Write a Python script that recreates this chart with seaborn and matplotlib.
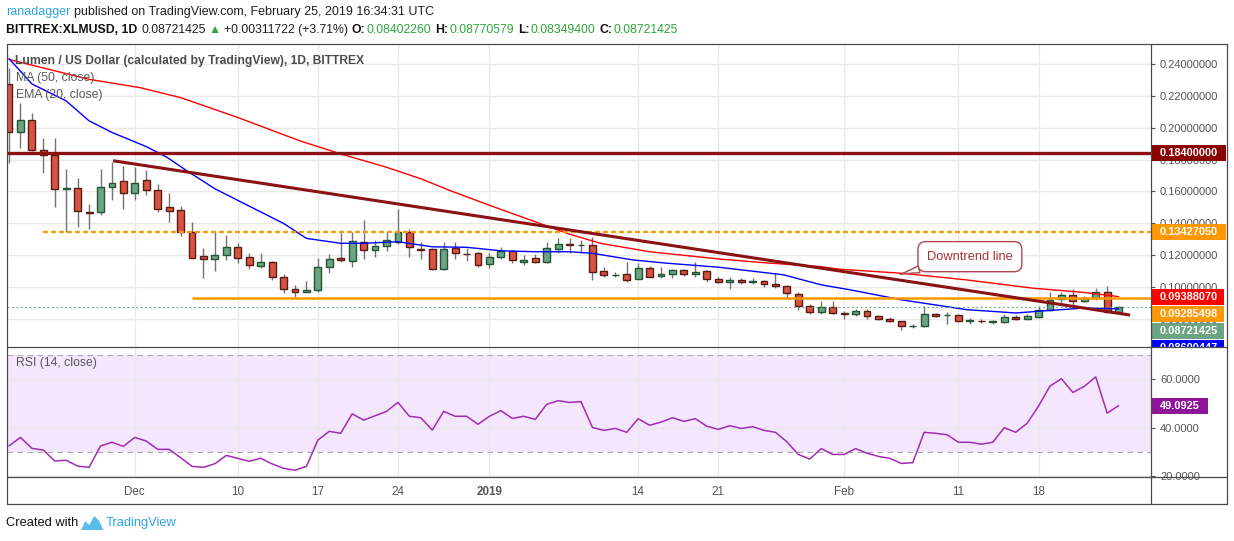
import numpy as np
import pandas as pd
import matplotlib
matplotlib.use("Agg")
import matplotlib.pyplot as plt
import seaborn as sns
from matplotlib.patches import Rectangle, Polygon
from matplotlib.lines import Line2D
from matplotlib.transforms import Bbox, TransformedBbox

W, H = 1234, 541

# ---------------- data ----------------
start_date = "2018-11-20"   # one daily candle per entry

opens = [
    0.2277, 0.1976, 0.2049, 0.1861, 0.1830, 0.1615, 0.1624, 0.1469, 0.1471, 0.1628,
    0.1663, 0.1592, 0.1669, 0.1607, 0.1501, 0.1482, 0.1344, 0.1192, 0.1174, 0.1199,
    0.1249, 0.1186, 0.1132, 0.1157, 0.1065, 0.0986, 0.0967, 0.0980, 0.1124, 0.1180,
    0.1163, 0.1284, 0.1232, 0.1257, 0.1284, 0.1346, 0.1238, 0.1236, 0.1113, 0.1244,
    0.1209, 0.1211, 0.1144, 0.1186, 0.1224, 0.1155, 0.1180, 0.1155, 0.1240, 0.1267,
    0.1261, 0.1261, 0.1100, 0.1075, 0.1080, 0.1049, 0.1117, 0.1067, 0.1080, 0.1105,
    0.1080, 0.1098, 0.1049, 0.1030, 0.1042, 0.1033, 0.1036, 0.1019, 0.1005, 0.0955,
    0.0880, 0.0842, 0.0871, 0.0833, 0.0832, 0.0851, 0.0817, 0.0801, 0.0788, 0.0752,
    0.0753, 0.0830, 0.0823, 0.0824, 0.0787, 0.0787, 0.0781, 0.0780, 0.0811, 0.0799,
    0.0811, 0.0853, 0.0924, 0.0949, 0.0911, 0.0930, 0.0967, 0.0840,
]
highs = [
    0.2376, 0.2159, 0.2094, 0.1936, 0.1936, 0.1742, 0.1686, 0.1519, 0.1742, 0.1783,
    0.1757, 0.1752, 0.1732, 0.1644, 0.1592, 0.1509, 0.1409, 0.1246, 0.1351, 0.1326,
    0.1276, 0.1215, 0.1211, 0.1163, 0.1082, 0.1011, 0.1038, 0.1180, 0.1207, 0.1336,
    0.1342, 0.1419, 0.1294, 0.1342, 0.1488, 0.1367, 0.1284, 0.1242, 0.1284, 0.1284,
    0.1242, 0.1221, 0.1211, 0.1249, 0.1232, 0.1199, 0.1205, 0.1284, 0.1309, 0.1305,
    0.1294, 0.1315, 0.1124, 0.1094, 0.1157, 0.1153, 0.1132, 0.1124, 0.1111, 0.1113,
    0.1157, 0.1107, 0.1061, 0.1061, 0.1059, 0.1053, 0.1044, 0.1090, 0.1013, 0.0967,
    0.0894, 0.0909, 0.0909, 0.0851, 0.0861, 0.0861, 0.0826, 0.0811, 0.0788, 0.0769,
    0.0882, 0.0838, 0.0844, 0.0830, 0.0803, 0.0799, 0.0790, 0.0832, 0.0821, 0.0830,
    0.0882, 0.0971, 0.0971, 0.0986, 0.0944, 0.0992, 0.1003, 0.0877,
]
lows = [
    0.1776, 0.1874, 0.1857, 0.1715, 0.1502, 0.1346, 0.1378, 0.1363, 0.1450, 0.1544,
    0.1492, 0.1544, 0.1576, 0.1471, 0.1409, 0.1321, 0.1180, 0.1055, 0.1102, 0.1169,
    0.1152, 0.1113, 0.1117, 0.1044, 0.0961, 0.0936, 0.0965, 0.0967, 0.1086, 0.1155,
    0.1127, 0.1176, 0.1190, 0.1228, 0.1267, 0.1190, 0.1174, 0.1107, 0.1107, 0.1176,
    0.1165, 0.1124, 0.1121, 0.1174, 0.1148, 0.1140, 0.1148, 0.1148, 0.1211, 0.1215,
    0.1215, 0.1044, 0.1061, 0.1061, 0.1030, 0.1049, 0.1061, 0.1055, 0.1053, 0.1071,
    0.1061, 0.1030, 0.1024, 0.0986, 0.1019, 0.1019, 0.0999, 0.0990, 0.0936, 0.0855,
    0.0830, 0.0830, 0.0830, 0.0801, 0.0819, 0.0799, 0.0794, 0.0778, 0.0732, 0.0740,
    0.0749, 0.0811, 0.0769, 0.0782, 0.0767, 0.0774, 0.0769, 0.0774, 0.0790, 0.0792,
    0.0807, 0.0849, 0.0899, 0.0874, 0.0903, 0.0919, 0.0836, 0.0835,
]
closes = [
    0.1976, 0.2049, 0.1861, 0.1830, 0.1617, 0.1622, 0.1480, 0.1465, 0.1630, 0.1655,
    0.1592, 0.1655, 0.1611, 0.1492, 0.1480, 0.1342, 0.1184, 0.1174, 0.1199, 0.1249,
    0.1184, 0.1136, 0.1157, 0.1065, 0.0986, 0.0967, 0.0980, 0.1124, 0.1178, 0.1167,
    0.1288, 0.1232, 0.1257, 0.1294, 0.1346, 0.1249, 0.1234, 0.1113, 0.1240, 0.1211,
    0.1205, 0.1136, 0.1186, 0.1224, 0.1167, 0.1171, 0.1155, 0.1242, 0.1267, 0.1263,
    0.1265, 0.1092, 0.1074, 0.1077, 0.1046, 0.1117, 0.1065, 0.1080, 0.1105, 0.1080,
    0.1094, 0.1049, 0.1030, 0.1042, 0.1030, 0.1035, 0.1019, 0.1005, 0.0961, 0.0878,
    0.0840, 0.0871, 0.0836, 0.0831, 0.0848, 0.0815, 0.0799, 0.0786, 0.0753, 0.0754,
    0.0828, 0.0819, 0.0825, 0.0788, 0.0789, 0.0785, 0.0783, 0.0811, 0.0799, 0.0819,
    0.0857, 0.0919, 0.0949, 0.0911, 0.0930, 0.0967, 0.0842, 0.08721425,
]

rsi = [
    32.5, 36.0, 31.5, 30.8, 26.3, 26.6, 24.2, 23.7, 32.5, 34.0,
    32.3, 36.0, 34.5, 31.1, 31.1, 27.7, 24.1, 23.7, 25.2, 28.6,
    27.4, 26.2, 27.4, 25.1, 23.3, 22.5, 24.1, 34.9, 38.5, 37.7,
    45.7, 43.1, 44.9, 46.7, 50.4, 44.7, 44.1, 39.0, 46.7, 44.7,
    44.7, 41.4, 44.7, 47.0, 43.8, 44.7, 43.4, 49.6, 51.1, 50.4,
    50.7, 40.1, 38.9, 39.7, 38.1, 43.7, 41.0, 42.3, 44.1, 42.6,
    43.7, 40.6, 39.3, 40.8, 39.7, 40.4, 38.9, 38.1, 34.2, 29.0,
    27.1, 31.4, 29.0, 29.0, 31.4, 29.5, 28.2, 27.4, 25.3, 25.6,
    38.1, 37.7, 37.1, 34.0, 34.0, 33.2, 34.0, 40.0, 38.1, 41.8,
    48.9, 57.1, 60.1, 54.5, 57.0, 60.9, 46.0, 49.0925,
]

# moving averages, sampled along the drawn curves (candle index, price)
ma50_x = [0, 7, 11.5, 15, 20, 25.4, 29, 33, 36, 38.5, 42, 46.4, 48.8, 51.7,
          56, 62, 66, 71, 72.6, 78, 83.7, 89.5, 94, 97]
ma50_y = [0.2430, 0.2305, 0.2252, 0.2190, 0.2065, 0.1919, 0.1836, 0.1752,
          0.1680, 0.1607, 0.1513, 0.1399, 0.1336, 0.1274, 0.1221, 0.1176,
          0.1152, 0.1127, 0.1111, 0.1086, 0.1044, 0.0992, 0.0965, 0.0939]
ema20_x = [0, 2, 5, 7, 9, 12, 13.8, 15.5, 18, 20, 24, 26, 29, 31, 34, 37, 40,
           43, 46, 49, 51, 54.6, 57.5, 62, 67.7, 71, 73.5, 78, 83.7, 88, 91, 94, 97]
ema20_y = [0.2435, 0.2276, 0.2169, 0.2044, 0.1971, 0.1882, 0.1815, 0.1732,
           0.1617, 0.1544, 0.1399, 0.1305, 0.1274, 0.1274, 0.1284, 0.1252,
           0.1249, 0.1227, 0.1221, 0.1221, 0.1211, 0.1169, 0.1149, 0.1124,
           0.1076, 0.1013, 0.0982, 0.0919, 0.0857, 0.0836, 0.0852, 0.0867, 0.0862]

# drawings
resistance = 0.184
dashed_level = 0.1342705
dashed_from = 3
support = 0.09285498
support_from = 16
trend_x = [9.1, 98.0]
trend_y = [0.1793, 0.0823]

date_ticks = ["2018-12-01", "2018-12-10", "2018-12-17", "2018-12-24", "2019-01-01",
              "2019-01-14", "2019-01-21", "2019-02-01", "2019-02-11", "2019-02-18"]
date_labels = ["Dec", "10", "17", "24", "2019", "14", "21", "Feb", "11", "18"]
price_ticks = [0.08, 0.10, 0.12, 0.14, 0.16, 0.18, 0.20, 0.22, 0.24]
rsi_ticks = [20, 40, 60]

fixed_tags = [("0.18400000", 0.184, "#8B0000"), ("0.13427050", 0.1342705, "#FF9800")]
stacked_tags = [("0.09388070", "#FF0000"), ("0.09285498", "#FF9800"),
                ("0.08721425", "#6BA583"), ("0.08600447", "#0000FF")]
stack_start = 0.0938807
rsi_tag = 49.0925

header_user = "ranadagger"
header_rest = "published on TradingView.com, February 25, 2019 16:34:31 UTC"
symbol = "BITTREX:XLMUSD, 1D"
last_txt = "0.08721425"
change_txt = "+0.00311722 (+3.71%)"
ohlc_txt = [("O:", "0.08402260"), ("H:", "0.08770579"), ("L:", "0.08349400"), ("C:", "0.08721425")]

# ---------------- style ----------------
UP_FILL, UP_EDGE = "#6BA583", "#225437"
DN_FILL, DN_EDGE = "#D75442", "#5B1A13"
WICK = "#737375"
GRID = "#E9E9EA"
TXT = "#555555"
FRAME = "#4A4A4A"
GREEN_TXT = "#2DA63B"
TV_BLUE = "#2CA5E0"

LEFT, SPLIT, RIGHT = 7, 1151, 1227
TOP, MID, XAX, BOTTOM = 44, 346.7, 477.3, 504


def fx(px):
    return px / W


def fy(py):
    return 1 - py / H


def main():
    sns.set_theme(style="white")
    plt.rcParams["font.family"] = ["Liberation Sans", "DejaVu Sans"]

    fig = plt.figure(figsize=(W / 100, H / 100), dpi=100)
    fig.patch.set_facecolor("white")

    ax_p = fig.add_axes([fx(LEFT), fy(MID), fx(SPLIT) - fx(LEFT), fy(TOP) - fy(MID)])
    ax_r = fig.add_axes([fx(LEFT), fy(XAX), fx(SPLIT) - fx(LEFT), fy(MID) - fy(XAX)])

    n = len(opens)
    dates = pd.date_range(start_date, periods=n, freq="D")
    xs = np.arange(n)
    tick_pos = [dates.get_loc(pd.Timestamp(d)) for d in date_ticks]

    o = np.array(opens)
    c = np.array(closes)
    up = c >= o

    for ax in (ax_p, ax_r):
        ax.set_facecolor("white")
        for s in ax.spines.values():
            s.set_visible(False)
        ax.set_xlim(-0.175, 99.83)
        ax.set_xticks(tick_pos)
        ax.grid(True, color=GRID, lw=1.0)

    # --------- price pane ---------
    ax_p.set_ylim(0.0624, 0.2527)
    ax_p.set_axisbelow(True)

    ax_p.vlines(xs, lows, highs, color=WICK, lw=1.0, zorder=2)
    body_h = np.maximum(np.abs(c - o), 0.00012)
    ax_p.bar(xs, body_h, bottom=np.minimum(o, c), width=0.6,
             color=np.where(up, UP_FILL, DN_FILL),
             edgecolor=np.where(up, UP_EDGE, DN_EDGE), linewidth=1.0, zorder=2.5)

    ma_df = pd.DataFrame({"x": ma50_x, "y": ma50_y})
    ema_df = pd.DataFrame({"x": ema20_x, "y": ema20_y})
    sns.lineplot(data=ma_df, x="x", y="y", ax=ax_p, color="#FF0000", lw=1.0, zorder=3)
    sns.lineplot(data=ema_df, x="x", y="y", ax=ax_p, color="#0000FF", lw=1.0, zorder=3)

    ax_p.axhline(resistance, color="#8E1212", lw=2.4, zorder=4)
    ax_p.hlines(dashed_level, dashed_from, 99.83, color="#FF9800", lw=1.6,
                linestyles=(0, (2.2, 1.4)), zorder=4)
    ax_p.hlines(support, support_from, 99.83, color="#FF9800", lw=1.8, zorder=4)
    ax_p.axhline(closes[-1], color="#5E9C78", lw=0.8, ls=(0, (1.5, 2.5)), zorder=4)
    ax_p.plot(trend_x, trend_y, color="#8B1212", lw=2.2, solid_capstyle="butt", zorder=5)

    ax_p.annotate("Downtrend line", xy=(77.9, 0.1079), xytext=(84.0, 0.1190),
                  ha="center", va="center", fontsize=9.3, color="#A8323A", zorder=7,
                  bbox=dict(boxstyle="round,pad=0.7,rounding_size=0.6", fc="white",
                            ec="#B0474E", lw=1.0),
                  arrowprops=dict(arrowstyle="wedge,tail_width=0.55,shrink_factor=0.4",
                                  fc="white", ec="#B0474E", lw=1.0, relpos=(0.2, 0.0),
                                  shrinkA=0, shrinkB=0))

    ax_p.set_xlabel("")
    ax_p.set_ylabel("")
    ax_p.yaxis.tick_right()
    ax_p.set_yticks(price_ticks)
    ax_p.set_yticklabels([f"{t:.8f}" for t in price_ticks])
    ax_p.tick_params(axis="y", length=2.9, width=0.8, color=TXT, pad=3.6,
                     labelsize=8.0, labelcolor=TXT, right=True, left=False)
    ax_p.tick_params(axis="x", length=0, labelbottom=False)

    fig.text(fx(15), fy(61), "Lumen / US Dollar (calculated by TradingView), 1D, BITTREX",
             fontsize=8.7, color="#4D4D4D", fontweight="bold", va="center", ha="left")
    fig.text(fx(15.5), fy(78), "MA (50, close)", fontsize=8.8, color="#5A5A5A",
             va="center", ha="left")
    fig.text(fx(15.5), fy(95), "EMA (20, close)", fontsize=8.8, color="#5A5A5A",
             va="center", ha="left")

    # --------- RSI pane ---------
    ax_r.set_ylim(19.6, 73.3)
    ax_r.set_axisbelow("line")
    ax_r.axhspan(30, 70, color="#F4E6FD", lw=0, zorder=1)
    for lvl in (30, 70):
        ax_r.axhline(lvl, color="#ABABAB", lw=0.8, ls=(0, (5, 4)), zorder=1.6)
    rsi_df = pd.DataFrame({"x": xs, "rsi": rsi})
    sns.lineplot(data=rsi_df, x="x", y="rsi", ax=ax_r, color="#A02DB4", lw=1.1, zorder=3)
    ax_r.set_xlabel("")
    ax_r.set_ylabel("")
    ax_r.yaxis.tick_right()
    ax_r.set_yticks(rsi_ticks)
    ax_r.set_yticklabels([f"{t:.4f}" for t in rsi_ticks])
    ax_r.tick_params(axis="y", length=2.9, width=0.8, color=TXT, pad=3.6,
                     labelsize=8.0, labelcolor=TXT, right=True, left=False)
    ax_r.set_xticklabels(date_labels)
    ax_r.tick_params(axis="x", length=0, pad=6.5, labelsize=8.4, labelcolor=TXT)
    for lab in ax_r.get_xticklabels():
        if lab.get_text() == "2019":
            lab.set_fontweight("bold")
    fig.text(fx(15.5), fy(363), "RSI (14, close)", fontsize=8.8, color="#5A5A5A",
             va="center", ha="left")

    # --------- price-scale tags ---------
    def add_tag(text, ypix, color, x1, clip):
        rect = Rectangle((fx(SPLIT), fy(ypix + 8)), fx(x1) - fx(SPLIT), 16 / H,
                         transform=fig.transFigure, fc=color, ec="none", zorder=5)
        fig.add_artist(rect)
        t = fig.text(fx(1160), fy(ypix), text, color="white", fontsize=7.9,
                     fontweight="bold", va="center", ha="left", zorder=6)
        rect.set_clip_box(clip)
        t.set_clip_box(clip)
        t.set_clip_on(True)

    price_clip = TransformedBbox(Bbox.from_extents(fx(SPLIT), fy(MID), fx(RIGHT), fy(TOP)),
                                 fig.transFigure)
    rsi_clip = TransformedBbox(Bbox.from_extents(fx(SPLIT), fy(XAX), fx(RIGHT), fy(MID)),
                               fig.transFigure)

    def value_to_pix(ax, v):
        return H - ax.transData.transform((0, v))[1]

    for text, v, color in fixed_tags:
        add_tag(text, value_to_pix(ax_p, v), color, 1226, price_clip)
    y0 = value_to_pix(ax_p, stack_start)
    for k, (text, color) in enumerate(stacked_tags):
        add_tag(text, y0 + 17 * k, color, 1224, price_clip)
    add_tag(f"{rsi_tag:.4f}", value_to_pix(ax_r, rsi_tag), "#8E1599", 1208, rsi_clip)

    # --------- frame ---------
    def fline(x0, y0_, x1, y1):
        fig.add_artist(Line2D([fx(x0), fx(x1)], [fy(y0_), fy(y1)], color=FRAME, lw=0.9,
                              transform=fig.transFigure, zorder=8))

    fline(LEFT, TOP, RIGHT, TOP)
    fline(LEFT, BOTTOM, RIGHT, BOTTOM)
    fline(LEFT, TOP, LEFT, BOTTOM)
    fline(RIGHT, TOP, RIGHT, BOTTOM)
    fline(SPLIT, TOP, SPLIT, BOTTOM)
    fline(LEFT, MID, RIGHT, MID)
    fline(LEFT, XAX, RIGHT, XAX)

    # --------- header / footer ---------
    renderer = fig.canvas.get_renderer()

    def write_runs(runs, x, y, size):
        for text, color, weight, gap in runs:
            t = fig.text(fx(x), fy(y), text, color=color, fontsize=size,
                         fontweight=weight, ha="left", va="center")
            x += t.get_window_extent(renderer).width + gap
        return x

    write_runs([(header_user, TV_BLUE, "normal", 3.5),
                (header_rest, "#1E1E1E", "normal", 0)], 6, 12.5, 9.0)
    runs = [(symbol, "#111111", "bold", 4), (last_txt, "#1E1E1E", "normal", 3),
            ("\u25B2", GREEN_TXT, "normal", 3), (change_txt, "#1E1E1E", "normal", 4)]
    for lab, val in ohlc_txt:
        runs += [(lab, "#111111", "bold", 1), (val, GREEN_TXT, "normal", 4)]
    write_runs(runs, 6, 30, 8.8)

    xe = write_runs([("Created with", "#111111", "normal", 0)], 6, 523, 9.3)
    lx = xe + 3
    logo = Polygon([[fx(lx), fy(530)], [fx(lx + 4), fy(521)], [fx(lx + 8), fy(525)],
                    [fx(lx + 13), fy(516)], [fx(lx + 18), fy(521)], [fx(lx + 22), fy(530)]],
                   closed=True, transform=fig.transFigure, fc="#5BBDEA", ec="none")
    fig.add_artist(logo)
    write_runs([("TradingView", TV_BLUE, "normal", 0)], lx + 24, 523, 9.3)

    fig.savefig("out.png", dpi=100, facecolor="white")


if __name__ == "__main__":
    main()
